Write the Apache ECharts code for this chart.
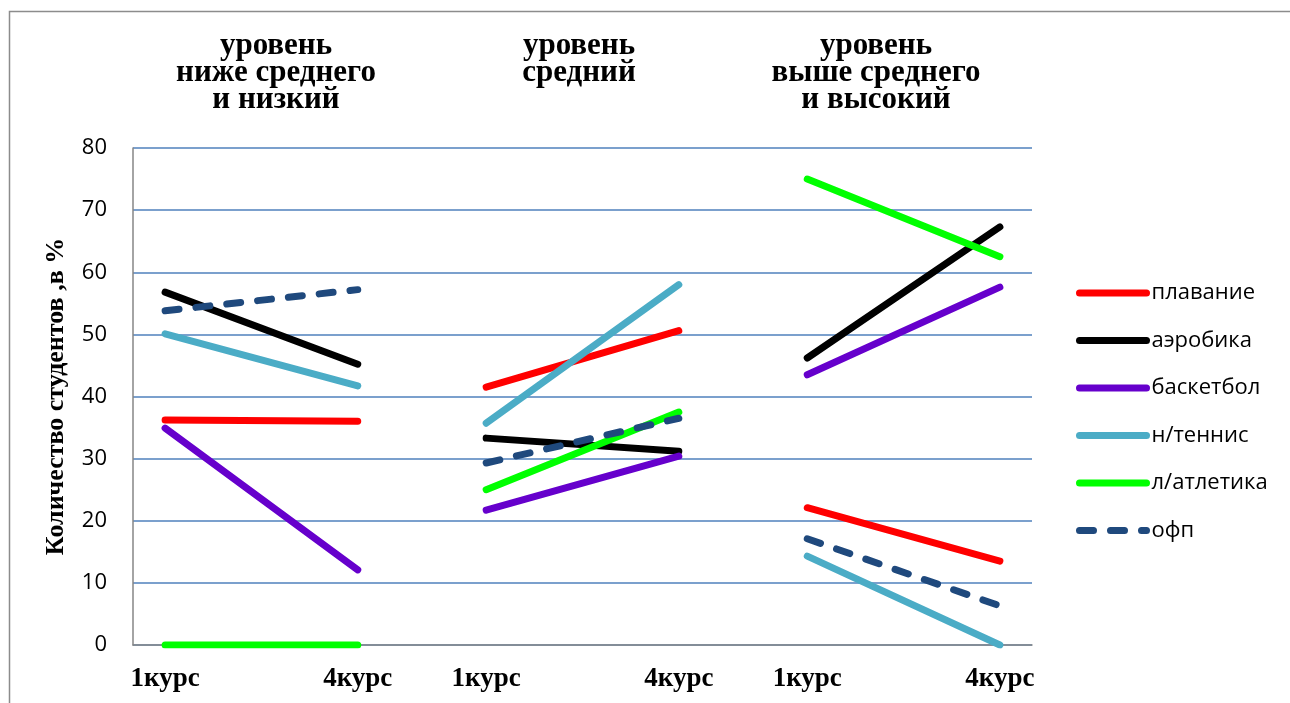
<!DOCTYPE html>
<html>
<head>
<meta charset="utf-8">
<script src="https://cdn.jsdelivr.net/npm/echarts@6/dist/echarts.min.js"></script>
<style>
  html, body { margin: 0; padding: 0; background: #fff; }
  #chart { width: 1290px; height: 703px; }
</style>
</head>
<body>
<div id="chart"></div>
<script>
// 14 category slots, labels only on the course points
const xLabels = ['1курс', '', '', '4курс', '', '1курс', '', '', '4курс', '', '1курс', '', '', '4курс']
const pointSlots = [0, 3, 5, 8, 10, 13]
const groupTitles = ['уровень\nниже среднего\nи низкий', 'уровень\nсредний', 'уровень\nвыше среднего\nи высокий']

const seriesNames = ['плавание', 'аэробика', 'баскетбол', 'н/теннис', 'л/атлетика', 'офп']
const swimming = [36.2, 36.0, 41.5, 50.6, 22.1, 13.5]
const aerobics = [56.8, 45.2, 33.3, 31.2, 46.2, 67.3]
const basketball = [34.9, 12.1, 21.7, 30.4, 43.5, 57.6]
const tennis = [50.1, 41.7, 35.7, 58.0, 14.3, 0]
const athletics = [0, 0, 25.0, 37.5, 75.0, 62.5]
const ofp = [53.8, 57.2, 29.3, 36.5, 17.1, 6.3]
const seriesValues = [swimming, aerobics, basketball, tennis, athletics, ofp]

const colors = ['#ff0000', '#000000', '#6600cc', '#4bacc6', '#00ff00', '#1f497d']

// pairs of (slot, value); a '-' point between groups breaks the line
function buildData(values) {
  const out = []
  values.forEach((v, i) => {
    out.push([pointSlots[i], v])
    if (i % 2 === 1 && i < values.length - 1) out.push([pointSlots[i] + 1, '-'])
  })
  return out
}

const chart = echarts.init(document.getElementById('chart'))

chart.setOption({
  animation: false,
  title: [
    { text: groupTitles[0], left: 276, top: 32, textAlign: 'center' },
    { text: groupTitles[1], left: 579, top: 32, textAlign: 'center' },
    { text: groupTitles[2], left: 876, top: 32, textAlign: 'center' }
  ].map(t => Object.assign(t, {
    padding: 0,
    textStyle: {
      fontFamily: 'Liberation Serif',
      fontWeight: 'bold',
      fontSize: 31,
      lineHeight: 27,
      color: '#000'
    }
  })),
  graphic: [{
    type: 'rect',
    shape: { x: 9.5, y: 11.5, width: 1400, height: 800 },
    style: { fill: 'none', stroke: '#8c8c8c', lineWidth: 1.5 },
    silent: true
  }],
  legend: {
    orient: 'vertical',
    left: 1076,
    top: 282,
    padding: 0,
    itemWidth: 67,
    itemHeight: 7,
    itemGap: 25.5,
    data: seriesNames,
    itemStyle: { opacity: 0 },
    lineStyle: { width: 7, cap: 'round' },
    textStyle: { fontFamily: 'Open Sans', fontSize: 22, color: '#000', padding: 0 }
  },
  grid: { left: 133, right: 258, top: 148, bottom: 58 },
  xAxis: {
    type: 'category',
    data: xLabels,
    boundaryGap: true,
    axisLine: { lineStyle: { color: '#868686', width: 1.5 } },
    axisTick: { show: false },
    axisLabel: {
      interval: 0,
      margin: 21,
      fontFamily: 'Liberation Serif',
      fontWeight: 'bold',
      fontSize: 27,
      color: '#000'
    },
    splitLine: { show: false }
  },
  yAxis: {
    type: 'value',
    min: 0,
    max: 80,
    interval: 10,
    name: 'Количество студентов ,в %',
    nameLocation: 'middle',
    nameGap: 64,
    nameTextStyle: {
      fontFamily: 'Liberation Serif',
      fontWeight: 'bold',
      fontSize: 26,
      color: '#000'
    },
    axisLine: { show: true, lineStyle: { color: '#868686', width: 1.5 } },
    axisTick: { show: false },
    axisLabel: { fontFamily: 'Open Sans', fontSize: 22, color: '#000', margin: 26 },
    splitLine: { lineStyle: { color: '#4f81bd', width: 1.5 } }
  },
  series: seriesNames.map((name, i) => ({
    name,
    type: 'line',
    data: buildData(seriesValues[i]),
    symbol: 'none',
    connectNulls: false,
    color: colors[i],
    itemStyle: { opacity: 0 },
    lineStyle: {
      color: colors[i],
      width: 7,
      cap: 'round',
      type: name === 'офп' ? [14, 17] : 'solid'
    }
  }))
})
</script>
</body>
</html>
